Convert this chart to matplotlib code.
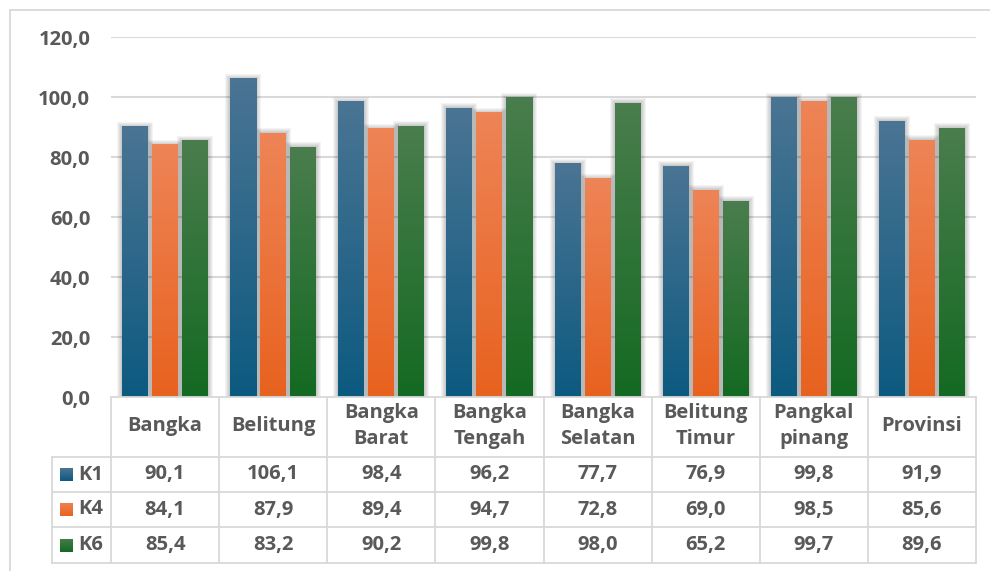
import numpy as np
import matplotlib.pyplot as plt
from matplotlib.colors import LinearSegmentedColormap
from matplotlib.patches import Rectangle
from matplotlib.lines import Line2D

categories = ["Bangka", "Belitung", "Bangka\nBarat", "Bangka\nTengah", "Bangka\nSelatan",
              "Belitung\nTimur", "Pangkal\npinang", "Provinsi"]
series = ["K1", "K4", "K6"]
k1 = [90.1, 106.1, 98.4, 96.2, 77.7, 76.9, 99.8, 91.9]
k4 = [84.1, 87.9, 89.4, 94.7, 72.8, 69.0, 98.5, 85.6]
k6 = [85.4, 83.2, 90.2, 99.8, 98.0, 65.2, 99.7, 89.6]
yticks = [0, 20, 40, 60, 80, 100, 120]

# (dark bottom, light top)
grads = [("#0d5a80", "#4a7493"), ("#e8621f", "#ee8456"), ("#146a22", "#4a7d4d")]

W, H = 990, 571
plt.rcParams['font.family'] = ['Open Sans', 'DejaVu Sans']
txt = "#595959"
line_c = "#d9d9d9"
fs = 14.5

fig = plt.figure(figsize=(W / 100, H / 100), dpi=100)
fig.patch.set_facecolor("white")


def fx(x):
    return x / W


def fy(y):
    return 1 - y / H


def fline(x0, y0, x1, y1, c=line_c, lw=1.3):
    fig.add_artist(Line2D([fx(x0), fx(x1)], [fy(y0), fy(y1)], color=c, lw=lw,
                          transform=fig.transFigure))


# outer chart border
fline(10, 10, 1000, 10)
fline(10, 10, 10, 600)

L, R, T, B = 111, 976, 37, 397
ax = fig.add_axes([fx(L), fy(B), fx(R) - fx(L), fy(T) - fy(B)])
ax.set_xlim(-0.5, len(categories) - 0.5)
ax.set_ylim(0, 120)
for s in ax.spines.values():
    s.set_visible(False)
ax.set_xticks([])
ax.set_yticks(yticks)
ax.set_yticklabels([f"{v:.1f}".replace(".", ",") for v in yticks],
                   fontsize=fs, fontweight="bold", color=txt)
ax.tick_params(axis="y", length=0, pad=15)
for v in yticks[1:]:
    ax.axhline(v, color=line_c, lw=1.5, zorder=0)

px_x = (len(categories)) / (R - L)
px_y = 120 / (B - T)
bw = 26 * px_x
step = 30 * px_x
x = np.arange(len(categories))
grad = np.linspace(0, 1, 64).reshape(-1, 1)
for si, vals in enumerate([k1, k4, k6]):
    cmap = LinearSegmentedColormap.from_list(series[si], grads[si])
    for i, v in enumerate(vals):
        x0 = x[i] + (si - 1) * step - bw / 2
        for k in range(6, 0, -1):
            ax.add_patch(Rectangle((x0 - k * px_x + px_x, 0), bw + 2 * (k - 1) * px_x,
                                   v + k * px_y - px_y,
                                   color="black", alpha=0.045, lw=0, zorder=1))
        ax.imshow(grad, extent=[x0, x0 + bw, 0, v], origin="lower", cmap=cmap,
                  aspect="auto", zorder=2)
ax.set_xlim(-0.5, len(categories) - 0.5)
ax.set_ylim(0, 120)

# data table
cw = (R - L) / len(categories)
rows = [457, 492, 527, 563]
fline(L, B, R, B)
fline(52, rows[0], R, rows[0])
for y in rows[1:]:
    fline(52, y, R, y)
for i in range(len(categories) + 1):
    fline(L + i * cw, B, L + i * cw, rows[-1])
fline(52, rows[0], 52, rows[-1])

for i, c in enumerate(categories):
    fig.text(fx(L + (i + 0.5) * cw), fy((B + rows[0]) / 2 - 1), c, ha="center", va="center",
             fontsize=fs, fontweight="bold", color=txt, linespacing=1.4)

for si, vals in enumerate([k1, k4, k6]):
    yc = (rows[si] + rows[si + 1]) / 2
    key = fig.add_axes([fx(60), fy(yc + 6.5), fx(13), 13 / H])
    key.imshow(grad, origin="lower", aspect="auto",
               cmap=LinearSegmentedColormap.from_list("k", grads[si]))
    key.axis("off")
    fig.text(fx(78), fy(yc), series[si], ha="left", va="center",
             fontsize=fs, fontweight="bold", color=txt)
    for i, v in enumerate(vals):
        fig.text(fx(L + (i + 0.5) * cw), fy(yc), f"{v:.1f}".replace(".", ","),
                 ha="center", va="center", fontsize=fs, fontweight="bold", color=txt)

fig.savefig("out.png", dpi=100)
